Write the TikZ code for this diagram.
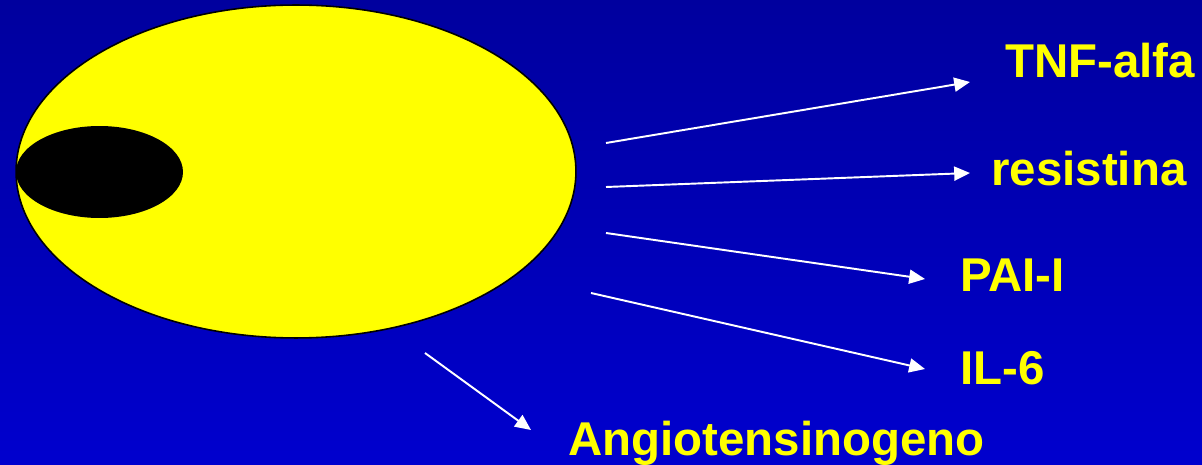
\documentclass[tikz,border=0pt]{standalone}
\usepackage{fontspec}
\setmainfont{Liberation Sans}
\usepackage{tikz}
\usetikzlibrary{arrows.meta, shapes.geometric}
\definecolor{bgtop}{RGB}{0,0,158}
\definecolor{bgbottom}{RGB}{0,0,206}
\definecolor{celly}{RGB}{255,255,0}
\tikzset{
  cell/.style={ellipse, draw=black, line width=0.9pt, fill=celly, inner sep=0pt},
  nucleus/.style={ellipse, fill=black, inner sep=0pt},
  product/.style={anchor=base west, inner sep=0pt, text=celly,
    font=\fontsize{27}{27}\selectfont\bfseries},
  secretion/.style={draw=white, line width=1.1pt, -{Triangle[length=9pt,width=8pt]}},
}
\begin{document}
\begin{tikzpicture}[x=0.02cm, y=-0.02cm]
  \fill[top color=bgtop, bottom color=bgbottom] (0,0) rectangle (1202,465);
  \useasboundingbox (0,0) rectangle (1202,465);

  \node[cell, minimum width=11.2cm, minimum height=6.66cm] (adipo) at (296,171.5) {};
  \node[nucleus, minimum width=3.34cm, minimum height=1.84cm] (nucl) at (99.5,172) {};

  \node[product] (tnf) at (1005,78) {TNF-alfa};
  \node[product] (resist) at (991,186) {resistina};
  \node[product] (pai) at (960,292) {PAI-I};
  \node[product] (il6) at (960,384) {IL-6};
  \node[product] (angio) at (568,455) {Angiotensinogeno};

  \coordinate (s1) at (606,143);  \coordinate (e1) at (970,82);
  \coordinate (s2) at (606,187);  \coordinate (e2) at (970,173);
  \coordinate (s3) at (606,233);  \coordinate (e3) at (925,279);
  \coordinate (s4) at (591,293);  \coordinate (e4) at (925,369);
  \coordinate (s5) at (425,353);  \coordinate (e5) at (531,430);

  \draw[secretion] (s1) -- (e1);
  \draw[secretion] (s2) -- (e2);
  \draw[secretion] (s3) -- (e3);
  \draw[secretion] (s4) -- (e4);
  \draw[secretion] (s5) -- (e5);
\end{tikzpicture}
\end{document}
